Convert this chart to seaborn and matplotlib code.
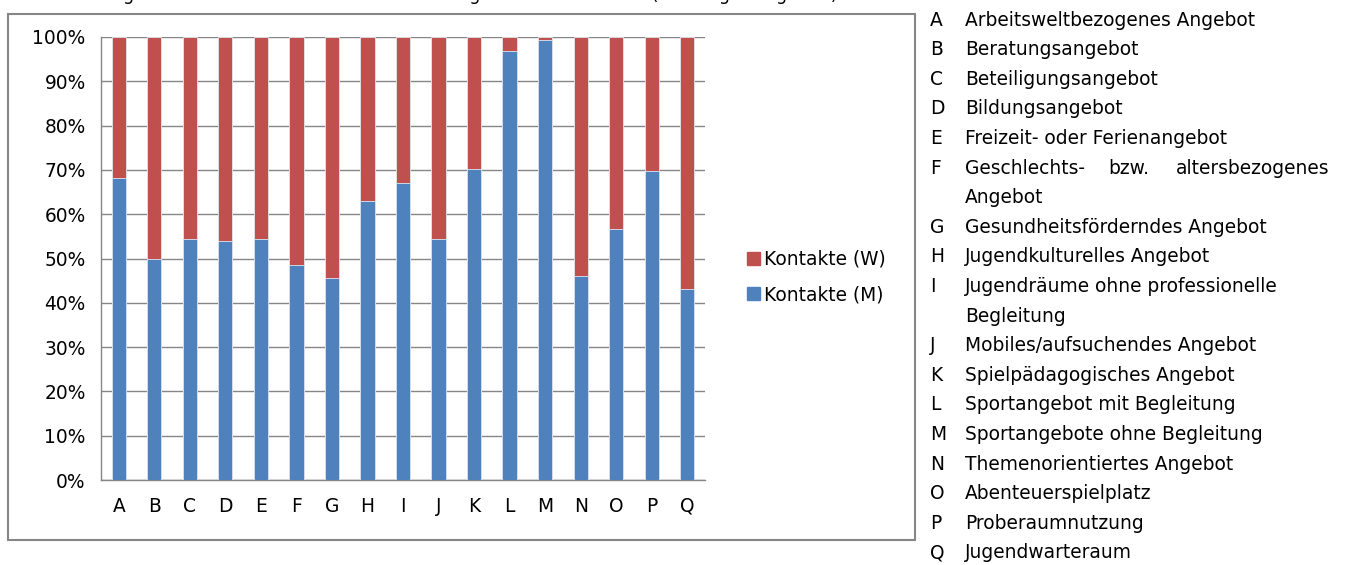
import numpy as np
import pandas as pd
import matplotlib.pyplot as plt
import matplotlib.patches as mpatches
import seaborn as sns

# Anteile der Kontakte (M) in Prozent
categories = list("ABCDEFGHIJKLMNOPQ")
kontakte_m = [68.1, 49.8, 54.3, 53.9, 54.4, 48.5, 45.7, 63.0, 67.1, 54.4,
              70.1, 96.9, 99.3, 46.0, 56.6, 69.8, 43.1]
kontakte_w = [100 - v for v in kontakte_m]

labels_long = [
    ("A", "Arbeitsweltbezogenes Angebot"),
    ("B", "Beratungsangebot"),
    ("C", "Beteiligungsangebot"),
    ("D", "Bildungsangebot"),
    ("E", "Freizeit- oder Ferienangebot"),
    ("F", "Geschlechts-|bzw.|altersbezogenes"),
    ("", "Angebot"),
    ("G", "Gesundheitsförderndes Angebot"),
    ("H", "Jugendkulturelles Angebot"),
    ("I", "Jugendräume ohne professionelle"),
    ("", "Begleitung"),
    ("J", "Mobiles/aufsuchendes Angebot"),
    ("K", "Spielpädagogisches Angebot"),
    ("L", "Sportangebot mit Begleitung"),
    ("M", "Sportangebote ohne Begleitung"),
    ("N", "Themenorientiertes Angebot"),
    ("O", "Abenteuerspielplatz"),
    ("P", "Proberaumnutzung"),
    ("Q", "Jugendwarteraum"),
]

blue = "#4F81BD"
red = "#C0504D"

df = pd.DataFrame({"Kategorie": categories,
                   "M": kontakte_m,
                   "Gesamt": [m + w for m, w in zip(kontakte_m, kontakte_w)]})

sns.set_style("white")
plt.rcParams["font.family"] = ["DejaVu Sans"]
plt.rcParams["text.color"] = "black"
plt.rcParams["xtick.labelcolor"] = "black"
plt.rcParams["ytick.labelcolor"] = "black"
fs = 13.4

W, H = 1346, 565
fig = plt.figure(figsize=(W / 100, H / 100), dpi=100)

# outer chart frame
fig.patches.append(mpatches.Rectangle((8 / W, 1 - 540 / H), (915 - 8) / W, (540 - 14) / H,
                                      transform=fig.transFigure, fill=False,
                                      edgecolor="#868686", linewidth=1.5))

# title, cut off at the top edge as in the screenshot
fig.text(45 / W, 1 - 0.5 / H,
         "Verteilung der Kontakte nach Geschlecht und Angebotsart in Prozent (bereinigte Angaben)",
         fontsize=12.5, ha="left", va="baseline", color="black")

ax = fig.add_axes([101 / W, 1 - 480 / H, (705 - 101) / W, (480 - 37) / H])

sns.barplot(data=df, x="Kategorie", y="Gesamt", order=categories, color=red,
            width=0.4, saturation=1, ax=ax, edgecolor="#e0e8f0", linewidth=0.6,
            zorder=3)
sns.barplot(data=df, x="Kategorie", y="M", order=categories, color=blue,
            width=0.4, saturation=1, ax=ax, edgecolor="#dce6f2", linewidth=0.6,
            zorder=3)

ax.set_xlim(-0.5, len(categories) - 0.5)
ax.set_ylim(0, 100)
ax.set_yticks(np.arange(0, 101, 10))
ax.set_yticklabels([f"{v}%" for v in range(0, 101, 10)], fontsize=fs)
ax.set_xticks(range(len(categories)))
ax.set_xticklabels(categories, fontsize=fs)
ax.set_xticks(np.arange(-0.5, len(categories)), minor=True)
ax.tick_params(axis="x", which="major", length=0, pad=12)
ax.tick_params(axis="x", which="minor", length=6, color="#868686", width=1)
ax.tick_params(axis="y", length=5, color="#868686", width=1, pad=6)
ax.set_xlabel("")
ax.set_ylabel("")
ax.yaxis.grid(True, color="#868686", linewidth=1, zorder=0)
ax.set_axisbelow(True)
for s in ["top", "right"]:
    ax.spines[s].set_visible(False)
for s in ["left", "bottom"]:
    ax.spines[s].set_color("#868686")
    ax.spines[s].set_linewidth(1)

handles = [mpatches.Patch(color=red, label="Kontakte (W)"),
           mpatches.Patch(color=blue, label="Kontakte (M)")]
fig.legend(handles=handles, loc="center left", bbox_to_anchor=(730 / W, 1 - 277 / H),
           frameon=False, fontsize=fs, handlelength=0.7, handleheight=0.7,
           handletextpad=0.2, labelspacing=0.9)

# right-hand category key
y0, dy = 20, 29.6
for i, (key, text) in enumerate(labels_long):
    y = 1 - (y0 + i * dy) / H
    fig.text(930 / W, y, key, fontsize=fs, va="center", ha="left")
    if "|" in text:
        parts = text.split("|")
        for p, x, a in zip(parts, [965, 1108, 1329], ["left", "left", "right"]):
            fig.text(x / W, y, p, fontsize=fs, va="center", ha=a)
    else:
        fig.text(965 / W, y, text, fontsize=fs, va="center", ha="left")

fig.savefig("out.png", dpi=100)
